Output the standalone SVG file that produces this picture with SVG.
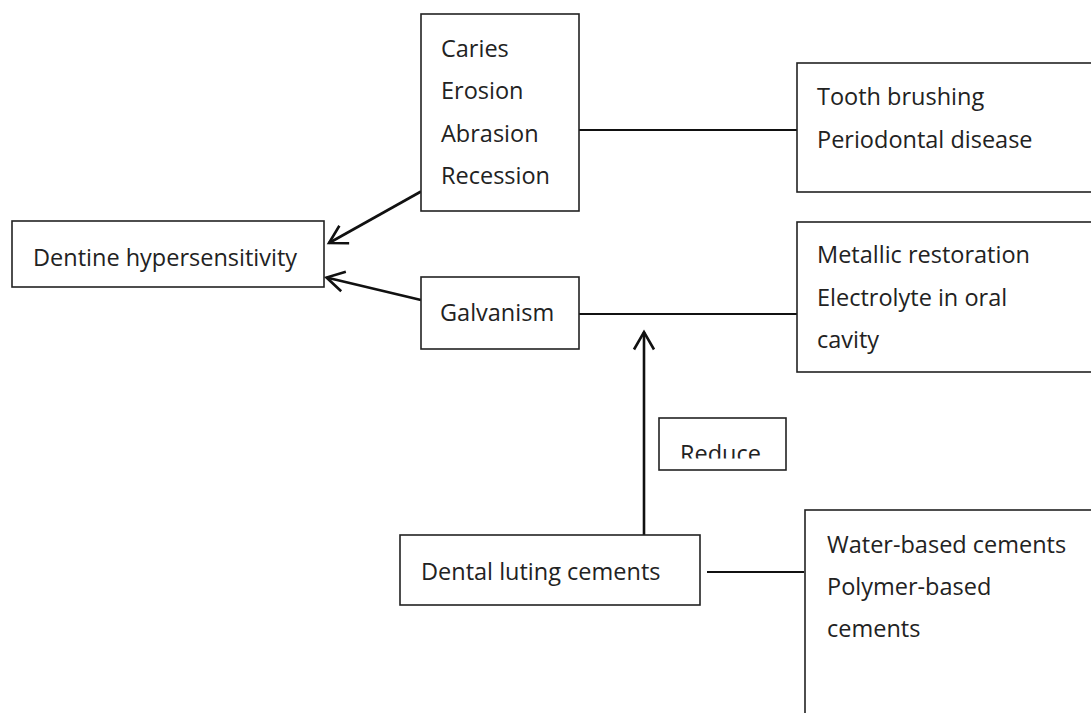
<svg xmlns="http://www.w3.org/2000/svg" width="1091" height="713" viewBox="0 0 1091 713">
  <style>
    .box { fill: #ffffff; stroke: #222222; stroke-width: 1.6; }
    .t { font-family: "Open Sans", "Noto Sans", "Liberation Sans", sans-serif; font-size: 23.5px; fill: #222222; }
    .conn { stroke: #111111; stroke-width: 2; fill: none; }
    .arr { stroke: #111111; stroke-width: 2.6; fill: none; marker-end: url(#open); }
  </style>
  <defs>
    <marker id="open" markerUnits="userSpaceOnUse" markerWidth="30" markerHeight="30" viewBox="-20 -15 25 30" refX="0" refY="0" orient="auto" overflow="visible">
      <path d="M -17.5,-10 L 0,0 L -17.5,10" fill="none" stroke="#111111" stroke-width="2.6"/>
    </marker>
    <clipPath id="reduceClip">
      <rect x="660" y="419" width="125" height="39.5"/>
    </clipPath>
  </defs>
  <rect width="1091" height="713" fill="#ffffff"/>

  <g id="connectors">
    <line class="conn" x1="579" y1="130" x2="797" y2="130"/>
    <line class="conn" x1="579" y1="314" x2="797" y2="314"/>
    <line class="conn" x1="707" y1="572" x2="804" y2="572"/>
    <line class="arr" x1="421" y1="191.5" x2="329" y2="243"/>
    <line class="arr" x1="421" y1="300" x2="326.5" y2="277.5"/>
    <line class="arr" x1="644" y1="535" x2="644" y2="332"/>
  </g>

  <g id="dentine">
    <rect class="box" x="12" y="221" width="312" height="66" stroke-width="2"/>
    <text class="t" x="33" y="266">Dentine hypersensitivity</text>
  </g>

  <g id="causes">
    <rect class="box" x="421" y="14" width="158" height="197"/>
    <text class="t" x="441" y="57">Caries</text>
    <text class="t" x="441" y="99">Erosion</text>
    <text class="t" x="441" y="141.5">Abrasion</text>
    <text class="t" x="441" y="184">Recession</text>
  </g>

  <g id="factors">
    <rect class="box" x="797" y="63" width="300" height="129"/>
    <text class="t" x="817" y="105">Tooth brushing</text>
    <text class="t" x="817" y="148">Periodontal disease</text>
  </g>

  <g id="galvanism">
    <rect class="box" x="421" y="277" width="158" height="72"/>
    <text class="t" x="440" y="321">Galvanism</text>
  </g>

  <g id="galvanism-factors">
    <rect class="box" x="797" y="222" width="300" height="150"/>
    <text class="t" x="817" y="263">Metallic restoration</text>
    <text class="t" x="817" y="306">Electrolyte in oral</text>
    <text class="t" x="817" y="348">cavity</text>
  </g>

  <g id="reduce">
    <rect class="box" x="659" y="418" width="127" height="52"/>
    <text class="t" x="680" y="461.5" clip-path="url(#reduceClip)">Reduce</text>
  </g>

  <g id="cements">
    <rect class="box" x="400" y="535" width="300" height="70"/>
    <text class="t" x="421" y="580">Dental luting cements</text>
  </g>

  <g id="cement-types">
    <rect class="box" x="805" y="510" width="300" height="220"/>
    <text class="t" x="827" y="553">Water-based cements</text>
    <text class="t" x="827" y="595">Polymer-based</text>
    <text class="t" x="827" y="637">cements</text>
  </g>
</svg>
